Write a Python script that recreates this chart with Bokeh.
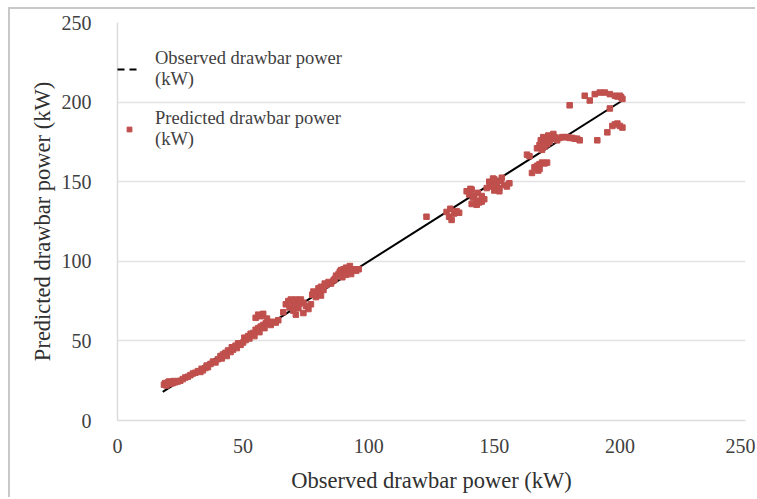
from bokeh.plotting import figure
from bokeh.models import ColumnDataSource, Legend, LegendItem, FixedTicker, Range1d
from bokeh.embed import file_html
from bokeh.resources import INLINE

# ---------------- data ----------------
observed = [
    18.5, 19, 19.5, 20, 20.5, 21, 21.5, 22, 22.5, 23, 24, 25, 26, 27, 28,
    29, 30, 31, 32, 33, 33.5, 34, 35, 35.5, 36, 37, 38, 39,
    40, 41, 41.5, 42, 43, 43.5, 44, 45, 45.5, 46, 47, 47.5, 48, 49, 50,
    50.5, 51, 52, 52.5, 53, 54, 54.5, 55, 55.5, 56, 56.5, 57, 58, 58.5, 59, 60, 57, 55, 56, 58, 59.5, 61, 62, 63, 64,
    66, 67, 68, 68.5, 69, 70, 70.5, 71, 72, 72.5, 73, 74, 70, 72, 74, 75, 76, 77, 71,
    77.5, 78, 79, 80, 80.5, 81, 82, 82.5, 83, 84, 85, 86, 79, 81,
    86.5, 87, 88, 88.5, 89, 90, 90.5, 91, 91.5, 92, 92.5, 93, 94, 95, 96, 89.5, 91, 93,
    123, 131, 132, 132.5, 133, 134, 135, 136,
    139, 140, 140.5, 141, 141.5, 142, 143, 143.5, 144, 145, 146, 147, 141, 143, 145,
    148, 149, 149.5, 150, 150.5, 151, 152, 152.5, 153, 154, 155, 156, 150, 152,
    163, 164, 165, 166, 167, 167.5, 168, 169, 170, 171, 168, 167, 168, 168.5, 169, 169.5, 170, 170.5, 171, 171.5, 172, 172.5, 173, 173.5, 174, 169, 170, 171, 172,
    175, 176, 177, 178, 179, 180, 181, 182, 183, 184, 180,
    186, 188, 190, 192, 194, 196, 198, 199, 200, 200.5, 201, 196, 195, 191, 197, 198, 199, 200, 201,
]
predicted = [
    22.5, 23.5, 22, 23.8, 24.5, 23, 24.2, 23.5, 24.8, 24, 24.5, 25, 26, 27, 27.5,
    28.5, 29.5, 30, 31, 30.5, 32.5, 31.5, 33, 34.5, 33.5, 35.5, 37, 36.5,
    38.5, 40.5, 39, 41.5, 42.5, 40.5, 44, 43, 46, 44.5, 47, 45.5, 48.5, 47.5, 49,
    52, 50.5, 53, 51.5, 54.5, 55, 53, 57, 56, 58, 55.5, 59, 60, 58, 61, 62, 65.5, 64.5, 66.5, 67, 64, 60, 62, 61.5, 63,
    68, 73, 75, 71, 76, 74.5, 72, 76, 75, 73.5, 76, 74, 69, 70.5, 67.5, 72, 70, 73, 66.5,
    79, 81, 80, 83, 81.5, 84, 82, 86, 85, 87, 86, 88, 77.5, 78.5,
    89, 91, 92, 93.5, 94.5, 95, 93, 96, 94, 95.5, 97, 94.5, 95, 94, 95, 90, 91.5, 92,
    128, 131, 128, 133, 126, 130, 131.5, 130.5,
    144, 142, 145.5, 145, 140, 141, 138, 143, 137, 141, 139, 146, 136, 135.5, 137.5,
    150, 147, 152, 151.5, 148, 149, 146, 150.5, 152.5, 148, 147, 149, 144.5, 144,
    167, 166, 155.5, 159, 160, 157, 161, 162, 161.5, 162, 158, 171, 173, 176, 172, 178, 175, 177, 174, 179, 176, 178, 177, 180, 178, 170, 172, 173.5, 175,
    176, 177.5, 178, 178, 178, 177.5, 177.5, 177, 177, 176, 198,
    204, 201, 205, 206, 206, 205, 204, 203.5, 204, 203, 202, 196, 181, 176, 185, 186, 186.5, 185, 184,
]
line_x = [18, 201]
line_y = [18, 201]
ticks = [0, 50, 100, 150, 200, 250]

SERIF = "Liberation Serif"
TXT = "#404040"
RED = "#C0504D"

p = figure(width=747, height=490, output_backend="svg", toolbar_location=None,
           x_range=Range1d(0, 250), y_range=Range1d(0, 250),
           min_border_left=107, min_border_right=12, min_border_top=13, min_border_bottom=79)
p.margin = (7, 0, 0, 8)
p.styles = {"border-top": "2px solid #c8c8c8", "border-left": "2px solid #c8c8c8"}
p.outline_line_color = None
p.background_fill_color = "white"
p.border_fill_color = "white"

p.xgrid.grid_line_color = None
p.ygrid.grid_line_color = "#e3e3e3"
p.ygrid.grid_line_width = 1.5

for ax in (p.xaxis[0], p.yaxis[0]):
    ax.ticker = FixedTicker(ticks=ticks)
    ax.major_tick_line_color = None
    ax.minor_tick_line_color = None
    ax.axis_line_color = "#dcdcdc"
    ax.axis_line_width = 1.5
    ax.major_label_text_font = SERIF
    ax.major_label_text_font_size = "20px"
    ax.major_label_text_color = TXT
    ax.axis_label_text_font = SERIF
    ax.axis_label_text_font_size = "22.5px"
    ax.axis_label_text_font_style = "normal"
    ax.axis_label_text_color = "#303030"

p.xaxis.axis_label = "Observed drawbar power (kW)"
p.yaxis.axis_label = "Predicted drawbar power (kW)"
p.xaxis.major_label_standoff = 12
p.yaxis.major_label_standoff = 20
p.xaxis.axis_label_standoff = 12
p.yaxis.axis_label_standoff = 4

src = ColumnDataSource(dict(x=observed, y=predicted))
line_r = p.line(line_x, line_y, line_color="black", line_width=2)
pts = p.scatter("x", "y", source=src, marker="square", size=5.5,
                fill_color=RED, line_color=RED)
legend_line = p.line([float("nan")], [float("nan")], line_color="black",
                     line_width=2, line_dash="7 5")

legend = Legend(items=[
    LegendItem(label="Observed drawbar power\n(kW)", renderers=[legend_line]),
    LegendItem(label="Predicted drawbar power\n(kW)", renderers=[pts]),
], location="top_left")
legend.title = " "
legend.title_text_font_size = "22px"
legend.title_standoff = 0
legend.background_fill_alpha = 0
legend.border_line_color = None
legend.label_text_font = SERIF
legend.label_text_font_size = "18.5px"
legend.label_text_color = TXT
legend.glyph_width = 24
legend.glyph_height = 12
legend.spacing = 18
legend.margin = 0
legend.padding = 8
legend.label_standoff = 14
p.add_layout(legend)

open("out.html", "w").write(file_html(p, INLINE))
